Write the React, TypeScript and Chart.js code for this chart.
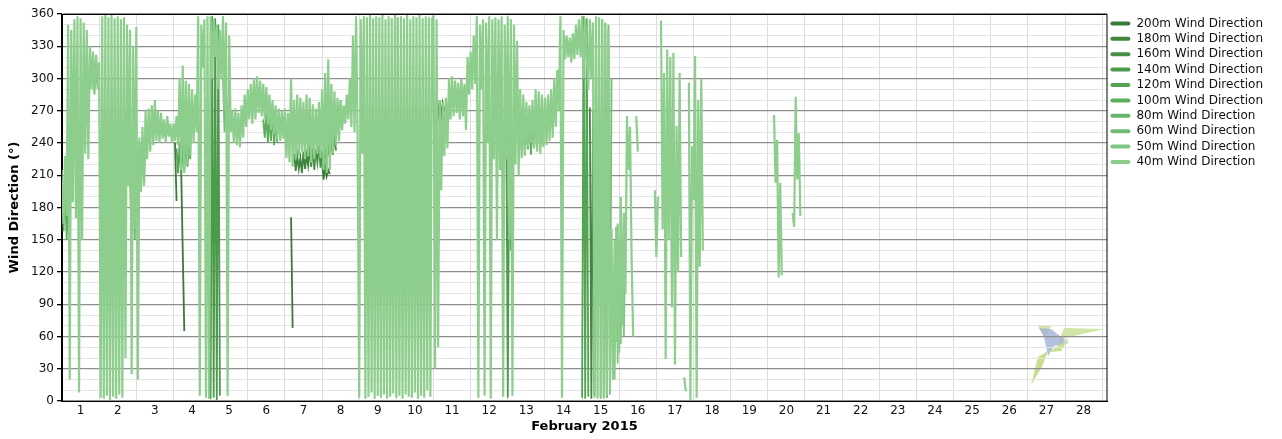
import React, { useEffect, useRef } from 'react';
import { Chart, registerables } from 'chart.js';

Chart.register(...registerables);

const _ = null;

// Series names (legend order is reversed: 200m first)
const SERIES_NAMES = [
  '40m Wind Direction',
  '50m Wind Direction',
  '60m Wind Direction',
  '80m Wind Direction',
  '100m Wind Direction',
  '120m Wind Direction',
  '140m Wind Direction',
  '160m Wind Direction',
  '180m Wind Direction',
  '200m Wind Direction',
];

const SERIES_COLORS = [
  '#8dce8d',
  '#80c680',
  '#74bd74',
  '#67b567',
  '#5cad5c',
  '#53a453',
  '#4c9a4c',
  '#468f46',
  '#408540',
  '#3a7b3a',
];

// Hourly wind direction (°) at 40m, starting Feb 1 2015 00:00; null = no data
const dir40m: (number | null)[] = [
  // Feb 1
  205, 165, 228, 172, 350, 20, 345, 185, 355, 170, 358, 8, 356, 150, 352, 230, 345, 225, 330, 290, 325, 292, 322, 300,
  // Feb 2
  315, 3, 358, 2, 360, 5, 357, 1, 359, 4, 356, 2, 358, 6, 355, 3, 357, 40, 350, 200, 345, 25, 330, 160,
  // Feb 3
  348, 20, 245, 195, 255, 200, 270, 225, 272, 232, 275, 238, 280, 242, 270, 240, 268, 244, 262, 240, 265, 246, 258, 240,
  // Feb 4
  258, 242, 265, 238, 300, 215, 312, 212, 298, 220, 295, 228, 290, 240, 285, 250, 358, 5, 350, 310, 355, 3, 358, 2,
  // Feb 5
  358, 300, 355, 320, 350, 290, 345, 300, 358, 270, 352, 5, 340, 250, 270, 240, 272, 238, 268, 236, 275, 245, 285, 255,
  // Feb 6
  290, 262, 295, 258, 300, 262, 302, 268, 298, 265, 295, 262, 292, 258, 285, 252, 280, 248, 275, 244, 272, 242, 270, 244,
  // Feb 7
  272, 226, 268, 222, 300, 218, 280, 225, 285, 228, 282, 232, 278, 225, 285, 228, 282, 222, 276, 225, 272, 230, 278, 226,
  // Feb 8
  290, 215, 305, 212, 318, 215, 295, 230, 288, 238, 282, 242, 280, 252, 275, 258, 285, 262, 300, 255, 340, 250, 358, 240,
  // Feb 9
  3, 355, 230, 358, 2, 357, 4, 359, 8, 356, 2, 358, 5, 357, 3, 359, 6, 355, 2, 358, 4, 356, 7, 359,
  // Feb 10
  3, 357, 5, 358, 2, 356, 6, 359, 4, 355, 3, 358, 8, 357, 2, 359, 5, 356, 3, 358, 10, 357, 4, 355,
  // Feb 11
  358, 30, 355, 50, 280, 196, 278, 228, 282, 235, 300, 262, 302, 265, 298, 268, 296, 262, 300, 265, 295, 252, 320, 285,
  // Feb 12
  325, 290, 340, 295, 358, 3, 350, 290, 355, 5, 352, 240, 358, 2, 355, 225, 357, 150, 355, 215, 358, 4, 350, 225,
  // Feb 13
  358, 150, 355, 5, 350, 220, 335, 210, 290, 226, 285, 228, 278, 236, 275, 240, 280, 235, 290, 232, 288, 230, 285, 236,
  // Feb 14
  282, 238, 285, 242, 290, 245, 300, 255, 308, 270, 358, 3, 345, 318, 340, 320, 338, 315, 342, 318, 350, 322, 355, 320,
  // Feb 15
  358, 300, 355, 320, 290, 355, 300, 352, 3, 358, 2, 357, 4, 355, 2, 350, 5, 345, 8, 160, 20, 150, 55, 165,
  // Feb 16
  45, 190, 70, 175, 100, 265, 215, 255, 130, 60, _, 265, 232, _, _, _, _, _, _, _, _, _, _, 196,
  // Feb 17
  134, 190, _, 354, 160, 305, 39, 327, 150, 320, 87, 324, 34, 256, 120, 305, 134, _, 22, 9, _, 296, 1, 237,
  // Feb 18
  187, 321, 3, 280, 125, 300, 140, _, _, _, _, _, _, _, _, _, _, _, _, _, _, _, _, _,
  // Feb 19
  _, _, _, _, _, _, _, _, _, _, _, _, _, _, _, _, _, _, _, _, _, _, _, _,
  // Feb 20
  _, _, _, _, 266, 203, 243, 115, 203, 117, _, _, _, _, _, _, 175, 162, 283, 206, 249, 172, _, _,
];

// Other heights: [start hour since Feb 1 00:00, hourly values]
const dir50m: [number, number[]][] = [
  [20, [300, 285, 310, 290]],
  [357, [20, 162, 35, 150, 53, 140, 60, 162]],
];
const dir60m: [number, number[]][] = [
  [104, [300, 250, 290, 255]],
  [348, [2, 355, 4, 352, 3, 350, 6, 300]],
];
const dir80m: [number, number[]][] = [
  [44, [205, 148, 210, 150, 230, 170, 240, 195, 245, 200, 250]],
  [176, [270, 250, 275, 255, 280, 262]],
];
const dir100m: [number, number[]][] = [
  [0, [215, 158, 200, 150, 190]],
  [130, [262, 245, 268, 240, 265, 242, 270, 238, 262, 240]],
  [296, [262, 232, 258, 230, 255, 234, 260, 229, 262, 236, 258, 240, 263, 238, 260, 242]],
];
const dir120m: [number, number[]][] = [
  [74, [235, 212, 240, 210, 238, 215, 242, 218, 236, 225]],
  [336, [3, 358, 2, 356, 4]],
];
const dir140m: [number, number[]][] = [
  [96, [2, 358, 3, 356, 1, 350, 5]],
  [287, [277, 3, 270, 140]],
];
const dir160m: [number, number[]][] = [
  [160, [238, 218, 236, 215, 234, 222, 238, 217, 233, 214, 236, 224, 240, 226, 243, 229, 248, 233]],
];
const dir180m: [number, number[]][] = [
  [150, [230, 214, 228, 216, 226, 212, 232, 216, 229, 219, 234, 218]],
  [341, [273, 2, 270, 5, 265]],
];
const dir200m: [number, number[]][] = [
  [73, [240, 186]],
  [77, [215, 140, 65]],
  [148, [171, 68]],
  [168, [222, 206, 219, 209, 215, 211]],
  [242, [278, 266, 280, 265, 277, 270]],
  [351, [300, 3]],
];

// Axis settings
const X_MIN_DAY = 0;
const X_MAX_DAY = 28.13;
const Y_MIN = 0;
const Y_MAX = 360;
const Y_LABEL_STEP = 30;
const X_TITLE = 'February 2015';
const Y_TITLE = 'Wind Direction (°)';

const FONT = 'DejaVu Sans';

type Pt = { x: number; y: number | null };

function fromHourly(values: (number | null)[], startHour = 0): Pt[] {
  return values.map((v, i) => ({ x: (startHour + i) / 24, y: v }));
}

function fromSegments(segs: [number, number[]][]): Pt[] {
  const sorted = [...segs].sort((a, b) => a[0] - b[0]);
  const pts: Pt[] = [];
  sorted.forEach(([start, vals], k) => {
    if (k > 0) pts.push({ x: (start - 0.5) / 24, y: null });
    vals.forEach((v, i) => pts.push({ x: (start + i) / 24, y: v }));
  });
  return pts;
}

const SERIES_DATA: Pt[][] = [
  fromHourly(dir40m),
  fromSegments(dir50m),
  fromSegments(dir60m),
  fromSegments(dir80m),
  fromSegments(dir100m),
  fromSegments(dir120m),
  fromSegments(dir140m),
  fromSegments(dir160m),
  fromSegments(dir180m),
  fromSegments(dir200m),
];

const framePlugin = {
  id: 'frame',
  afterDatasetsDraw(chart: any) {
    const { ctx, chartArea: a } = chart;
    ctx.save();
    ctx.strokeStyle = '#000';
    ctx.lineWidth = 1;
    ctx.strokeRect(Math.round(a.left) - 0.5, Math.round(a.top) + 0.5, Math.round(a.right - a.left) + 0.5, Math.round(a.bottom - a.top));
    ctx.restore();
  },
};

const logoPlugin = {
  id: 'logo',
  beforeDraw(chart: any) {
    const { ctx, chartArea } = chart;
    if (!chartArea) return;
    const R = chartArea.right;
    const B = chartArea.bottom;
    const poly = (pts: number[][], color: string) => {
      ctx.beginPath();
      pts.forEach(([dx, dy], i) => (i === 0 ? ctx.moveTo(R + dx, B + dy) : ctx.lineTo(R + dx, B + dy)));
      ctx.closePath();
      ctx.fillStyle = color;
      ctx.fill();
    };
    ctx.save();
    poly([[-43, -73], [-3, -72], [-42, -63], [-50, -54]], 'rgba(200,224,148,0.85)');
    poly([[-69, -75], [-56, -75], [-62, -63]], 'rgba(200,224,148,0.85)');
    poly([[-68, -73], [-56, -72], [-38, -58], [-53, -55], [-59, -45], [-63, -64]], 'rgba(160,178,214,0.8)');
    poly([[-76, -16], [-69, -44], [-59, -50], [-65, -34]], 'rgba(190,216,128,0.85)');
    poly([[-58, -49], [-38, -63], [-46, -50]], 'rgba(190,216,128,0.85)');
    ctx.restore();
  },
};

export default function App() {
  const ref = useRef<HTMLCanvasElement>(null);
  useEffect(() => {
    document.body.style.margin = '0';
    Chart.defaults.font.family = FONT;
    const datasets = SERIES_NAMES.map((name, i) => ({
      label: name,
      data: SERIES_DATA[i],
      borderColor: SERIES_COLORS[i],
      backgroundColor: SERIES_COLORS[i],
      borderWidth: i === 0 ? 2.2 : 1.8,
      pointRadius: 0,
      tension: 0,
      spanGaps: false,
    }));
    const chart = new Chart(ref.current as HTMLCanvasElement, {
      type: 'line',
      data: { datasets },
      plugins: [logoPlugin, framePlugin],
      options: {
        responsive: false,
        animation: false,
        layout: { padding: { top: 14, right: 9, left: 0, bottom: 0 } },
        plugins: {
          tooltip: { enabled: false },
          legend: {
            position: 'right',
            align: 'start',
            reverse: true,
            labels: {
              boxWidth: 20,
              boxHeight: 4,
              padding: 3.4,
              useBorderRadius: true,
              borderRadius: 2,
              color: '#111',
              font: { family: FONT, size: 12 },
              generateLabels: (c: any) =>
                (Chart.defaults.plugins.legend.labels as any).generateLabels(c).map((l: any) => ({ ...l, lineWidth: 0 })),
            },
          },
        },
        scales: {
          x: {
            type: 'linear',
            min: X_MIN_DAY,
            max: X_MAX_DAY,
            ticks: {
              stepSize: 0.5,
              autoSkip: false,
              maxRotation: 0,
              includeBounds: false,
              padding: 3,
              color: '#111',
              font: { family: FONT, size: 12 },
              callback: (v: any) => (Math.round(Number(v) * 2) % 2 === 1 ? String(Number(v) + 0.5) : ''),
            },
            grid: {
              color: (ctx: any) => (ctx.tick && Number.isInteger(ctx.tick.value) ? '#dddddd' : 'rgba(0,0,0,0)'),
              drawTicks: false,
            },
            border: { color: '#000', width: 1 },
            title: {
              display: true,
              text: X_TITLE,
              color: '#000',
              font: { family: FONT, size: 13, weight: 'bold' },
              padding: { top: 0, bottom: 5 },
            },
            afterFit: (s: any) => {
              s.height = 38;
            },
          },
          y: {
            type: 'linear',
            min: Y_MIN,
            max: Y_MAX,
            ticks: {
              stepSize: 10,
              autoSkip: false,
              padding: 3,
              color: '#111',
              font: { family: FONT, size: 12 },
              callback: (v: any) => (Number(v) % Y_LABEL_STEP === 0 ? String(v) : ''),
            },
            grid: {
              color: (ctx: any) => (ctx.tick && ctx.tick.value % Y_LABEL_STEP === 0 ? '#8e8e8e' : '#e4e4e4'),
              lineWidth: (ctx: any) => (ctx.tick && ctx.tick.value % Y_LABEL_STEP === 0 ? 1.3 : 1),
              tickColor: (ctx: any) => (ctx.tick && ctx.tick.value % Y_LABEL_STEP === 0 ? '#000' : 'rgba(0,0,0,0)'),
              tickLength: 5,
            },
            border: { color: '#000', width: 1 },
            title: {
              display: true,
              text: Y_TITLE,
              color: '#000',
              font: { family: FONT, size: 13, weight: 'bold' },
              padding: { top: 7, bottom: 0 },
            },
            afterFit: (s: any) => {
              s.width = 62;
            },
          },
        },
      } as any,
    });
    return () => chart.destroy();
  }, []);
  return (
    <div style={{ width: 1282, height: 439, background: '#fff' }}>
      <canvas ref={ref} width={1282} height={439} style={{ display: 'block' }} />
    </div>
  );
}
